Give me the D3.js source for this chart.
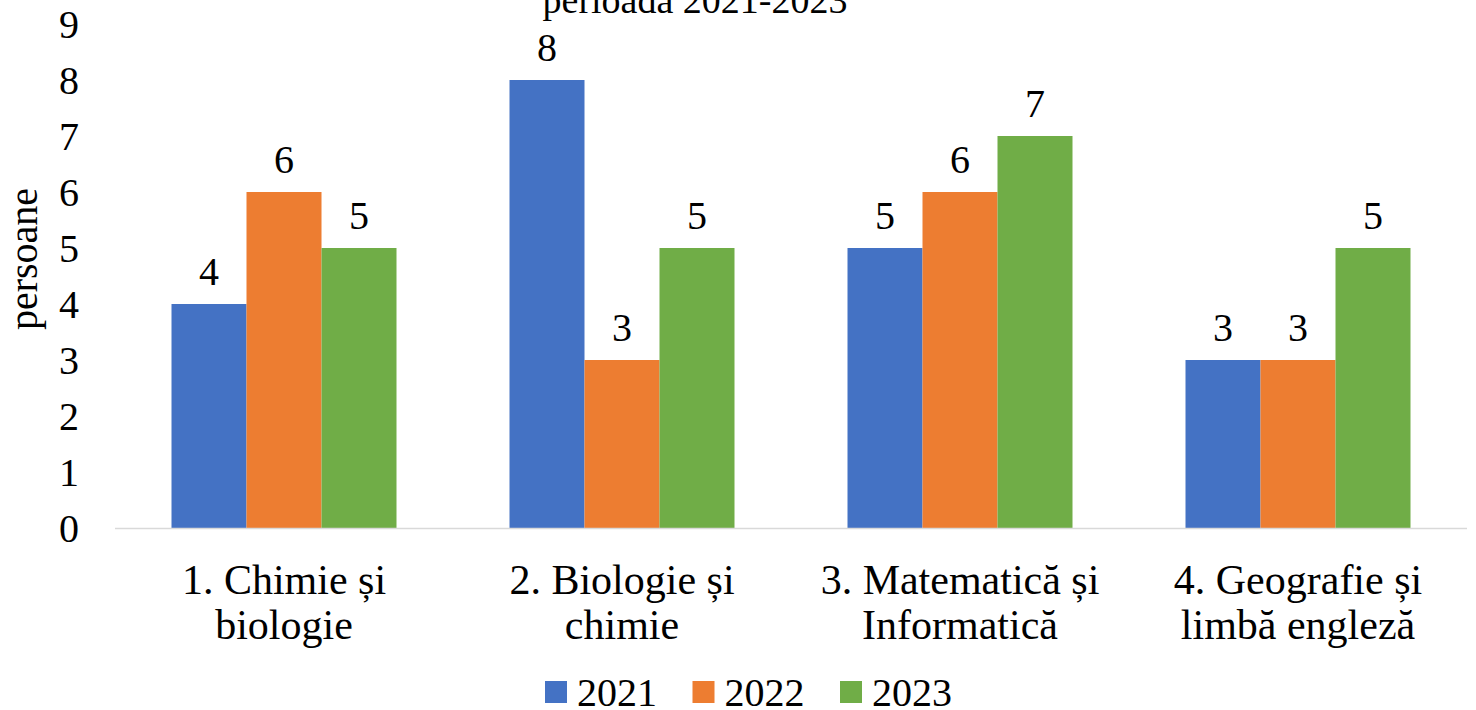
<!DOCTYPE html>
<html>
<head>
<meta charset="utf-8">
<script src="https://cdn.jsdelivr.net/npm/d3@7"></script>
<style>
body { margin: 0; background: #fff; }
svg text { font-family: "Liberation Serif", "Times New Roman", serif; fill: #000; }
</style>
</head>
<body>
<svg width="1476" height="710"></svg>
<script>
var categories = [["1. Chimie și", "biologie"], ["2. Biologie și", "chimie"], ["3. Matematică și", "Informatică"], ["4. Geografie și", "limbă engleză"]];
var seriesNames = ["2021", "2022", "2023"];
var values2021 = [4, 8, 5, 3];
var values2022 = [6, 3, 6, 3];
var values2023 = [5, 5, 7, 5];
var yTicks = [0, 1, 2, 3, 4, 5, 6, 7, 8, 9];
var colors = ["#4472C4", "#ED7D31", "#70AD47"];

var series = [values2021, values2022, values2023];
var svg = d3.select("svg");

var plotLeft = 115, plotRight = 1467, plotTop = 24, plotBottom = 528;

var xScale = d3.scaleBand().domain(d3.range(categories.length)).range([plotLeft, plotRight]);
var inner = d3.scaleBand().domain(seriesNames).range([0, 225]);
var yScale = d3.scaleLinear().domain([0, 9]).range([plotBottom, plotTop]);

// title (only its last line is inside the picture)
svg.append("text")
 .attr("x", 695)
 .attr("y", 13)
 .attr("text-anchor", "middle")
 .style("font-size", "38px")
 .text("perioada 2021-2023");

// y tick labels
svg.selectAll(".ytick")
 .data(yTicks)
 .enter().append("text")
 .attr("class", "ytick")
 .attr("x", 79)
 .attr("y", function(d) { return yScale(d); })
 .attr("dy", "0.35em")
 .attr("text-anchor", "end")
 .style("font-size", "40px")
 .text(function(d) { return d; });

svg.append("text")
 .attr("transform", "translate(37,259) rotate(-90)")
 .attr("text-anchor", "middle")
 .style("font-size", "40px")
 .text("persoane");

// bars
var groups = svg.selectAll(".grp")
 .data(categories)
 .enter().append("g")
 .attr("class", "grp")
 .attr("transform", function(d, i) { return "translate(" + (xScale(i) + xScale.bandwidth() / 2 - 112.5) + ",0)"; });

groups.each(function(c, i) {
    var g = d3.select(this);
    series.forEach(function(vals, s) {
        g.append("rect")
         .attr("x", inner(seriesNames[s]))
         .attr("y", yScale(vals[i]))
         .attr("width", inner.bandwidth())
         .attr("height", plotBottom - yScale(vals[i]))
         .attr("fill", colors[s]);
        g.append("text")
         .attr("x", inner(seriesNames[s]) + inner.bandwidth() / 2)
         .attr("y", yScale(vals[i]) - 19)
         .attr("text-anchor", "middle")
         .style("font-size", "40px")
         .text(vals[i]);
    });
});

// x axis line
svg.append("line")
 .attr("x1", plotLeft).attr("x2", plotRight)
 .attr("y1", plotBottom + 0.5).attr("y2", plotBottom + 0.5)
 .attr("stroke", "#d9d9d9")
 .attr("stroke-width", 1.5);

// category labels, two lines each
svg.selectAll(".xlab")
 .data(categories)
 .enter().append("text")
 .attr("class", "xlab")
 .attr("x", function(d, i) { return xScale(i) + xScale.bandwidth() / 2; })
 .attr("y", 594)
 .attr("text-anchor", "middle")
 .style("font-size", "42px")
 .each(function(d) {
     var t = d3.select(this);
     d.forEach(function(line, k) {
         t.append("tspan")
          .attr("x", t.attr("x"))
          .attr("dy", k === 0 ? 0 : 45)
          .text(line);
     });
 });

// legend
var legend = svg.selectAll(".leg")
 .data(seriesNames)
 .enter().append("g")
 .attr("class", "leg")
 .attr("transform", function(d, i) { return "translate(" + (545 + i * 147.5) + ",681)"; });

legend.append("rect")
 .attr("width", 22).attr("height", 22)
 .attr("fill", function(d, i) { return colors[i]; });

legend.append("text")
 .attr("x", 32)
 .attr("y", 11)
 .attr("dy", "0.35em")
 .style("font-size", "40px")
 .text(function(d) { return d; });
</script>
</body>
</html>
